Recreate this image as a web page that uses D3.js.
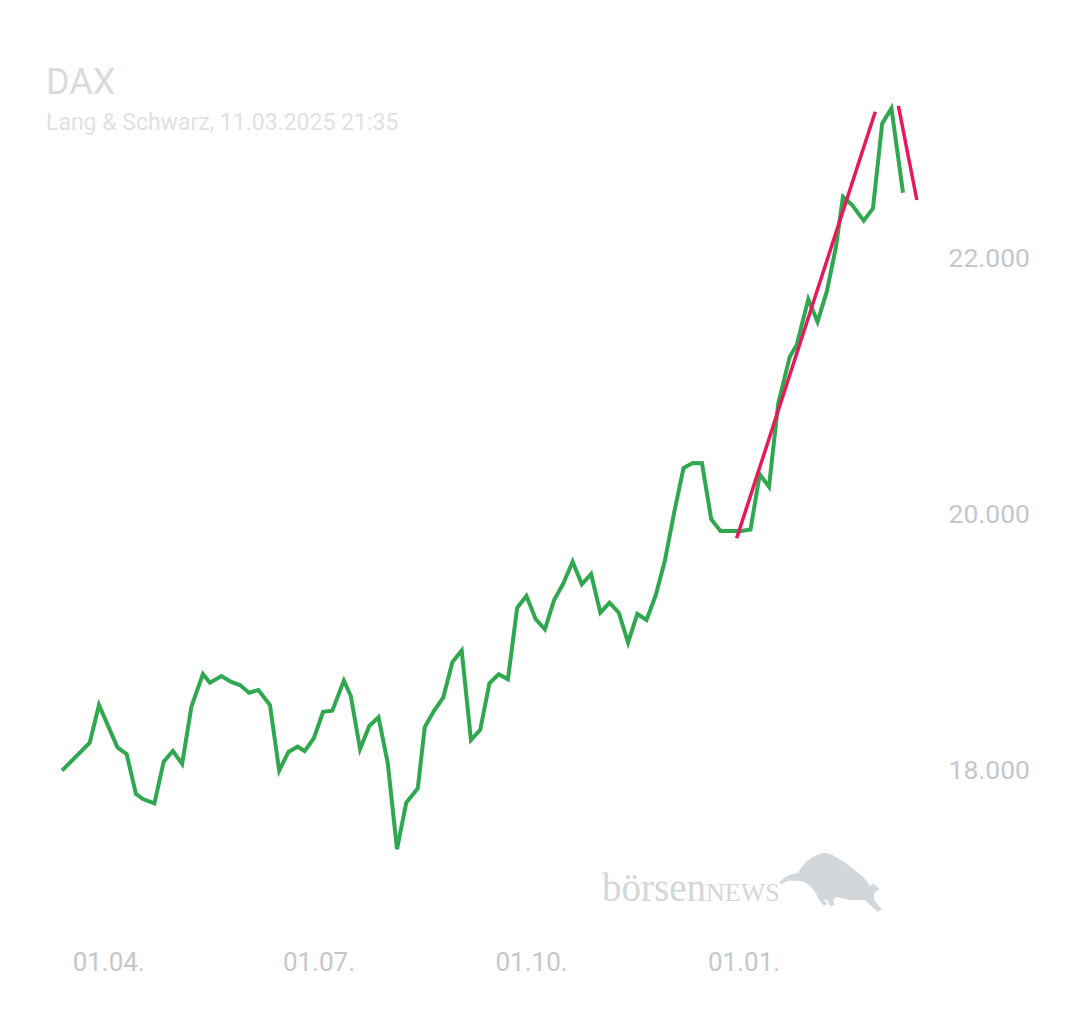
<!DOCTYPE html>
<html lang="de">
<head>
<meta charset="utf-8">
<title>DAX</title>
<script src="https://cdn.jsdelivr.net/npm/d3@7"></script>
<style>
  html, body { margin: 0; padding: 0; background: #fff; }
  svg { display: block; }
</style>
</head>
<body>
<div id="chart"></div>
<script>
// Titel
const title = "DAX";
const subtitle = "Lang & Schwarz, 11.03.2025 21:35";

// Kursverlauf
const dates = [
  "2024-03-12", "2024-03-24", "2024-03-28", "2024-04-05", "2024-04-09", "2024-04-13",
  "2024-04-16", "2024-04-21", "2024-04-25", "2024-04-29", "2024-05-03", "2024-05-07",
  "2024-05-12", "2024-05-15", "2024-05-20", "2024-05-24", "2024-05-28", "2024-06-01",
  "2024-06-05", "2024-06-10", "2024-06-14", "2024-06-18", "2024-06-22", "2024-06-25",
  "2024-06-29", "2024-07-03", "2024-07-07", "2024-07-12", "2024-07-15", "2024-07-19",
  "2024-07-23", "2024-07-27", "2024-07-31", "2024-08-04", "2024-08-08", "2024-08-13",
  "2024-08-16", "2024-08-20", "2024-08-24", "2024-08-28", "2024-09-01", "2024-09-05",
  "2024-09-09", "2024-09-13", "2024-09-17", "2024-09-21", "2024-09-25", "2024-09-29",
  "2024-10-03", "2024-10-07", "2024-10-11", "2024-10-15", "2024-10-19", "2024-10-23",
  "2024-10-27", "2024-10-31", "2024-11-04", "2024-11-08", "2024-11-12", "2024-11-16",
  "2024-11-20", "2024-11-24", "2024-11-28", "2024-12-02", "2024-12-06", "2024-12-10",
  "2024-12-14", "2024-12-18", "2024-12-22", "2024-12-26", "2024-12-31", "2025-01-04",
  "2025-01-08", "2025-01-12", "2025-01-16", "2025-01-21", "2025-01-24", "2025-01-29",
  "2025-02-02", "2025-02-06", "2025-02-10", "2025-02-13", "2025-02-17", "2025-02-22",
  "2025-02-26", "2025-03-02", "2025-03-06", "2025-03-11"
];
const values = [
  17995, 18213, 18508, 18177, 18123, 17813,
  17773, 17740, 18065, 18148, 18047, 18495,
  18750, 18682, 18734, 18690, 18664, 18604,
  18625, 18508, 17995, 18141, 18182, 18148,
  18248, 18455, 18463, 18698, 18578, 18164,
  18344, 18412, 18052, 17381, 17745, 17857,
  18334, 18463, 18566, 18844, 18934, 18234,
  18313, 18677, 18748, 18709, 19268, 19359,
  19180, 19099, 19328, 19459, 19627, 19451,
  19531, 19229, 19307, 19229, 18995, 19219,
  19172, 19367, 19641, 20016, 20359, 20398,
  20396, 19959, 19867, 19867, 19867, 19879,
  20310, 20213, 20865, 21229, 21320, 21677,
  21502, 21737, 22088, 22479, 22414, 22291,
  22388, 23052, 23170, 22510
];

// Trendlinien (rot)
const trendUpDates = ["2024-12-29", "2025-02-27"];
const trendUpValues = [19810, 23143];
const trendDownDates = ["2025-03-09", "2025-03-17"];
const trendDownValues = [23188, 22453];

// Achsen
const xTicks = ["2024-04-01", "2024-07-01", "2024-10-01", "2025-01-01"];
const yTicks = [18000, 20000, 22000];

const width = 1080;
const height = 1013;

const parseDate = d3.timeParse("%Y-%m-%d");
const de = d3.formatLocale({ decimal: ",", thousands: ".", grouping: [3], currency: ["", " €"] });

const series = dates.map((d, i) => ({ date: parseDate(d), value: values[i] }));
const trendUp = trendUpDates.map((d, i) => ({ date: parseDate(d), value: trendUpValues[i] }));
const trendDown = trendDownDates.map((d, i) => ({ date: parseDate(d), value: trendDownValues[i] }));

const svg = d3
  .select("#chart")
  .append("svg")
  .attr("width", width)
  .attr("height", height)
  .style("font-family", "Roboto, 'Noto Sans', sans-serif");

const x = d3
  .scaleTime()
  .domain([parseDate("2024-03-12"), parseDate("2025-03-11")])
  .range([62, 903]);

const y = d3.scaleLinear().domain([18000, 22000]).range([770, 258]);

// Titel + Quelle
svg
  .append("text")
  .attr("x", 46)
  .attr("y", 94)
  .attr("font-size", 36)
  .attr("fill", "#d9dbdf")
  .text(title);

svg
  .append("text")
  .attr("x", 46)
  .attr("y", 130)
  .attr("font-size", 23)
  .attr("fill", "#dfe1e4")
  .text(subtitle);

// Wasserzeichen börsenNEWS
const logo = svg.append("g").attr("transform", "translate(602,901)").attr("fill", "#d3d6da");
const logoText = logo
  .append("text")
  .attr("font-family", "'Liberation Serif', 'DejaVu Serif', serif");
logoText.append("tspan").attr("font-size", 39).text("börsen");
logoText.append("tspan").attr("font-size", 26).text("NEWS");

// Stier (grobe Silhouette)
logo
  .append("path")
  .attr("transform", "translate(167,-55)")
  .attr(
    "d",
    "M10,37 C14,32 18,29 24,28 L29,27 C32,22 36,16 42,12 C47,9 52,7 57,7 " +
      "C63,8 69,12 78,18 C85,23 91,28 97,34 L101,40 C103,38 105,37 107,40 " +
      "L111,43 L106,46 C104,50 105,54 108,58 L113,63 L109,66 L101,59 " +
      "C99,56 97,54 93,54 L80,54 C74,53 70,51 67,51 C64,53 64,56 66,59 " +
      "L61,60 L58,54 L55,53 L58,58 L55,60 L50,54 C48,49 45,44 42,41 " +
      "C39,38 36,36 32,35 L26,35 C22,34 18,34 13,38 Z"
  );

// Y-Achse rechts
const yAxis = d3
  .axisLeft(y)
  .tickValues(yTicks)
  .tickSize(0)
  .tickPadding(0)
  .tickFormat(de.format(",.0f"));

svg
  .append("g")
  .attr("transform", "translate(1030,0)")
  .call(yAxis)
  .call((g) => g.select(".domain").remove())
  .selectAll("text")
  .attr("font-family", "Roboto, sans-serif")
  .attr("font-size", 26.5)
  .attr("fill", "#c4c7cc");

// X-Achse
const xAxis = d3
  .axisBottom(x)
  .tickValues(xTicks.map(parseDate))
  .tickSize(0)
  .tickPadding(0)
  .tickFormat(d3.timeFormat("%d.%m."));

svg
  .append("g")
  .attr("transform", "translate(0,953)")
  .call(xAxis)
  .call((g) => g.select(".domain").remove())
  .selectAll("text")
  .attr("font-family", "Roboto, sans-serif")
  .attr("font-size", 26)
  .attr("fill", "#c4c7cc");

// Kurslinie
const line = d3
  .line()
  .x((d) => x(d.date))
  .y((d) => y(d.value));

svg
  .append("path")
  .datum(series)
  .attr("fill", "none")
  .attr("stroke", "#2fa84f")
  .attr("stroke-width", 4)
  .attr("d", line);

// Trendlinien
[trendUp, trendDown].forEach((t) => {
  svg
    .append("path")
    .datum(t)
    .attr("fill", "none")
    .attr("stroke", "#e8195b")
    .attr("stroke-width", 3.5)
    .attr("d", line);
});
</script>
</body>
</html>
